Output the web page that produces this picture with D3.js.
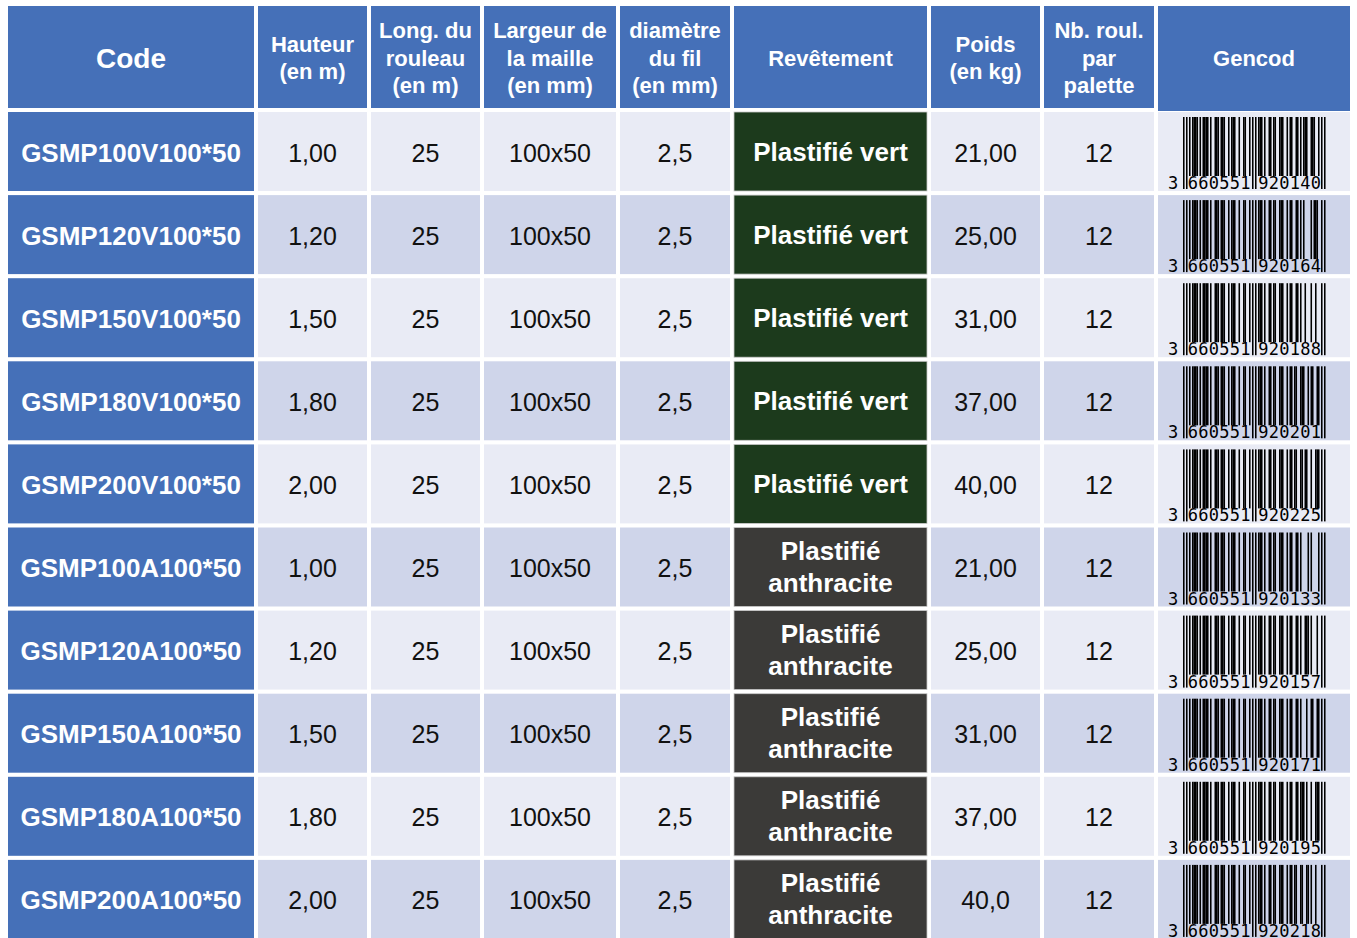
<!DOCTYPE html>
<html>
<head>
<meta charset="utf-8">
<script src="https://cdn.jsdelivr.net/npm/d3@7"></script>
<style>
html,body{margin:0;padding:0;background:#fff;}
svg{display:block;}
</style>
</head>
<body>
<svg id="chart" width="1357" height="938"></svg>
<script>
// ---- data ----
const headers = [
  ["Code"],
  ["Hauteur","(en m)"],
  ["Long. du","rouleau","(en m)"],
  ["Largeur de","la maille","(en mm)"],
  ["diamètre","du fil","(en mm)"],
  ["Revêtement"],
  ["Poids","(en kg)"],
  ["Nb. roul.","par","palette"],
  ["Gencod"]
];
const codes = ["GSMP100V100*50","GSMP120V100*50","GSMP150V100*50","GSMP180V100*50","GSMP200V100*50",
               "GSMP100A100*50","GSMP120A100*50","GSMP150A100*50","GSMP180A100*50","GSMP200A100*50"];
const hauteurs = ["1,00","1,20","1,50","1,80","2,00","1,00","1,20","1,50","1,80","2,00"];
const longueurs = ["25","25","25","25","25","25","25","25","25","25"];
const largeurs = ["100x50","100x50","100x50","100x50","100x50","100x50","100x50","100x50","100x50","100x50"];
const diametres = ["2,5","2,5","2,5","2,5","2,5","2,5","2,5","2,5","2,5","2,5"];
const revetements = ["Plastifié vert","Plastifié vert","Plastifié vert","Plastifié vert","Plastifié vert",
                     "Plastifié anthracite","Plastifié anthracite","Plastifié anthracite","Plastifié anthracite","Plastifié anthracite"];
const poids = ["21,00","25,00","31,00","37,00","40,00","21,00","25,00","31,00","37,00","40,0"];
const nbRouleaux = ["12","12","12","12","12","12","12","12","12","12"];
const gencods = ["3660551920140","3660551920164","3660551920188","3660551920201","3660551920225",
                 "3660551920133","3660551920157","3660551920171","3660551920195","3660551920218"];

// ---- layout ----
const colEdges = [[8,254],[258,367],[371,480],[484,616],[620,730],[734,927],[931,1040],[1044,1154],[1158,1350]];
const BLUE = "#4570B8", LIGHT = "#E9EBF5", DARK = "#CFD5EA";
const GREEN = "#1C3A1C", ANTH = "#3B3A38";
const FONT = "'Liberation Sans', Arial, Helvetica, sans-serif";

const svg = d3.select("#chart");
const n = codes.length;
const y = d3.scaleLinear().domain([0, n]).range([112, 112 + n * 83.1]);
const rowH = 79;

// header
const hdr = svg.append("g");
headers.forEach((lines, c) => {
  const [x0, x1] = colEdges[c];
  const bottom = c === 8 ? 111 : 108;
  hdr.append("rect").attr("x", x0).attr("y", 6).attr("width", x1 - x0).attr("height", bottom - 6).attr("fill", BLUE);
  const cx = (x0 + x1) / 2, cy = 58;
  const lh = 27.5;
  const fs = c === 0 ? 28 : 22;
  lines.forEach((t, i) => {
    hdr.append("text").attr("x", cx).attr("y", cy + (i - (lines.length - 1) / 2) * lh)
      .attr("text-anchor", "middle").attr("dominant-baseline", "central")
      .attr("font-family", FONT).attr("font-weight", "bold").attr("font-size", fs)
      .attr("fill", "#fff").text(t);
  });
});

// body
const cols = [codes, hauteurs, longueurs, largeurs, diametres, revetements, poids, nbRouleaux, gencods];
const body = svg.append("g");
for (let r = 0; r < n; r++) {
  const top = y(r);
  const cyR = top + rowH / 2 + 1;
  const stripe = r % 2 === 0 ? LIGHT : DARK;
  cols.forEach((arr, c) => {
    const [x0, x1] = colEdges[c];
    const cx = (x0 + x1) / 2;
    let fill = stripe;
    if (c === 0) fill = BLUE;
    if (c === 5) fill = arr[r].indexOf("vert") >= 0 ? GREEN : ANTH;
    body.append("rect").attr("x", x0).attr("y", top).attr("width", x1 - x0).attr("height", rowH)
      .attr("fill", fill)
      .attr("stroke", c === 5 ? "#c9c9c9" : "none").attr("stroke-width", c === 5 ? 0.8 : 0);
    if (c === 8) return;
    if (c === 0) {
      body.append("text").attr("x", cx).attr("y", cyR).attr("text-anchor", "middle").attr("dominant-baseline", "central")
        .attr("font-family", FONT).attr("font-weight", "bold").attr("font-size", 26).attr("fill", "#fff").text(arr[r]);
    } else if (c === 5) {
      const words = arr[r] === "Plastifié vert" ? ["Plastifié vert"] : ["Plastifié", "anthracite"];
      words.forEach((w, i) => {
        body.append("text").attr("x", cx).attr("y", cyR - 1 + (i - (words.length - 1) / 2) * 32)
          .attr("text-anchor", "middle").attr("dominant-baseline", "central")
          .attr("font-family", FONT).attr("font-weight", "bold").attr("font-size", 26).attr("fill", "#fff").text(w);
      });
    } else {
      body.append("text").attr("x", cx).attr("y", cyR).attr("text-anchor", "middle").attr("dominant-baseline", "central")
        .attr("font-family", FONT).attr("font-size", 25).attr("fill", "#111").text(arr[r]);
    }
  });
}

// ---- EAN-13 barcodes ----
const Lc = ["0001101","0011001","0010011","0111101","0100011","0110001","0101111","0111011","0110111","0001011"];
const Gc = ["0100111","0110011","0011011","0100001","0011101","0111001","0000101","0010001","0001001","0010111"];
const Rc = ["1110010","1100110","1101100","1000010","1011100","1001110","1010000","1000100","1001000","1110100"];
const parity = ["LLLLLL","LLGLGG","LLGGLG","LLGGGL","LGLLGG","LGGLLG","LGGGLL","LGLGLG","LGLGGL","LGGLGL"];

function eanModules(code) {
  const d = code.split("").map(Number);
  const p = parity[d[0]];
  let s = "101";
  for (let i = 1; i <= 6; i++) s += (p[i - 1] === "L" ? Lc : Gc)[d[i]];
  s += "01010";
  for (let i = 7; i <= 12; i++) s += Rc[d[i]];
  s += "101";
  return s;
}
const guardIdx = new Set([0,1,2,45,46,47,48,49,92,93,94]);
const mx = d3.scaleLinear().domain([0, 95]).range([1183, 1325.5]);
const bc = svg.append("g");
gencods.forEach((code, r) => {
  const top = y(r);
  const mods = eanModules(code);
  const g = bc.append("g");
  for (let i = 0; i < mods.length; i++) {
    if (mods[i] !== "1") continue;
    const guard = guardIdx.has(i);
    g.append("rect").attr("x", mx(i)).attr("y", top + 5)
      .attr("width", mx(i + 1) - mx(i) + 0.05)
      .attr("height", guard ? 72 : 59).attr("fill", "#000");
  }
  const digits = code.split("");
  const ty = top + 77;
  const txt = (x, t) => g.append("text").attr("x", x).attr("y", ty).attr("text-anchor", "middle")
      .attr("font-family", "'DejaVu Sans Mono', monospace").attr("font-size", 17).attr("fill", "#000").text(t);
  txt(1173, digits[0]);
  for (let i = 1; i <= 6; i++) txt(mx(3 + (i - 1) * 7 + 3.5), digits[i]);
  for (let i = 7; i <= 12; i++) txt(mx(50 + (i - 7) * 7 + 3.5), digits[i]);
});
</script>
</body>
</html>
